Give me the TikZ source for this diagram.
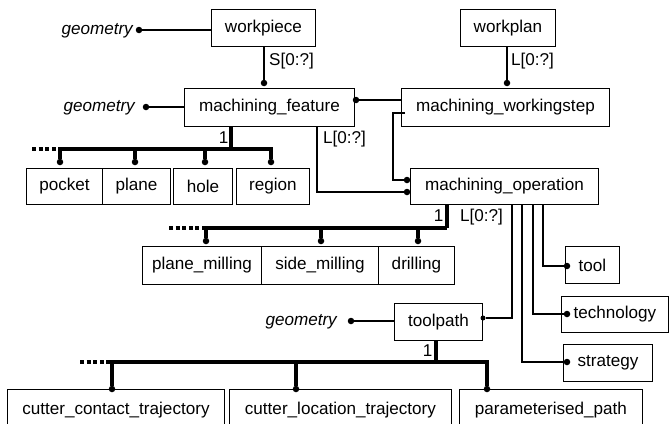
\documentclass[tikz,border=0pt]{standalone}
\usepackage{fontspec}
\setmainfont{Liberation Sans}
\begin{document}
\begin{tikzpicture}[x=1pt,y=-1pt,
  box/.style={draw, line width=0.9pt, inner sep=0pt, anchor=north west, font=\fontsize{17.1}{20}\selectfont},
  lbl/.style={font=\fontsize{17.1}{20}\selectfont, inner sep=0pt},
  geo/.style={font=\fontsize{17.1}{20}\selectfont\itshape, inner sep=0pt, anchor=base east},
  conn/.style={line width=1.3pt},
  bus/.style={line width=3.6pt},
  ext/.style={line width=3.6pt, dash pattern=on 4pt off 2.6pt},
  dot/.style={fill, circle, inner sep=0pt, minimum size=6.5pt},
  sdot/.style={fill, circle, inner sep=0pt, minimum size=5pt}]
\useasboundingbox (0,0) rectangle (669,423);
\clip (0,0) rectangle (669,423);

% boxes
\node[box, minimum width=104, minimum height=37] (wp) at (211,9) {workpiece};
\node[box, minimum width=95, minimum height=37] (wpl) at (460,9) {workplan};
\node[box, minimum width=170, minimum height=38] (mf) at (184,88) {machining\_feature};
\node[box, minimum width=208, minimum height=38] (ws) at (401,88) {machining\_workingstep};
\node[box, minimum width=76, minimum height=36] (pocket) at (26,168) {pocket};
\node[box, minimum width=68, minimum height=36] (plane) at (102,168) {plane};
\node[box, minimum width=59, minimum height=36] (hole) at (173,168) {hole};
\node[box, minimum width=73, minimum height=36] (region) at (236,168) {region};
\node[box, minimum width=188, minimum height=36] (mo) at (410,168) {machining\_operation};
\node[box, minimum width=119, minimum height=38] (pm) at (142,246) {plane\_milling};
\node[box, minimum width=117, minimum height=38] (sm) at (261,246) {side\_milling};
\node[box, minimum width=76, minimum height=38] (dr) at (378,246) {drilling};
\node[box, minimum width=54, minimum height=37] (tool) at (565,246) {tool};
\node[box, minimum width=107, minimum height=36] (tech) at (561,296) {technology};
\node[box, minimum width=89, minimum height=37] (strat) at (563,344) {strategy};
\node[box, minimum width=88, minimum height=37] (tp) at (394,303) {toolpath};
\node[box, minimum width=217, minimum height=42] (cct) at (7,389) {cutter\_contact\_trajectory};
\node[box, minimum width=222, minimum height=42] (clt) at (229,389) {cutter\_location\_trajectory};
\node[box, minimum width=183, minimum height=42] (pp) at (459,389) {parameterised\_path};

% geometry labels
\node[geo] (geo1) at (133,34.5) {geometry};
\node[geo] (geo2) at (135,111.5) {geometry};
\node[geo] (geo3) at (337,325) {geometry};

% cardinality labels
\node[lbl, anchor=base west] (lS) at (269,65) {S[0:?]};
\node[lbl, anchor=base west] (lWP) at (511,65) {L[0:?]};
\node[lbl, anchor=base east] (l1a) at (228.5,143) {1};
\node[lbl, anchor=base west] (lMF) at (323,143) {L[0:?]};
\node[lbl, anchor=base east] (l1b) at (443.5,221) {1};
\node[lbl, anchor=base west] (lMO) at (460,221) {L[0:?]};
\node[lbl, anchor=base east] (l1c) at (432.5,356) {1};

% geometry connectors
\node[dot] (g1d) at (139,30) {};
\node[dot] (g2d) at (146,107) {};
\node[dot] (g3d) at (351,321) {};
\draw[conn] (g1d) -- (g1d -| wp.west);
\draw[conn] (g2d) -- (g2d -| mf.west);
\draw[conn] (g3d) -- (g3d -| tp.west);

% workpiece -> machining_feature
\node[dot] (d1) at (264,83) {};
\draw[conn] (d1 |- wp.south) -- (d1);
% workplan -> workingstep
\node[dot] (d2) at (507,83) {};
\draw[conn] (d2 |- wpl.south) -- (d2);
% workingstep -> machining_feature
\node[dot] (d3) at (356,100) {};
\draw[conn] (d3) -- (d3 -| ws.west);

% machining_feature subtypes
\coordinate (b1) at (231,149);
\coordinate (b1l) at (60,149);
\coordinate (b1r) at (271,149);
\coordinate (b1e) at (32,149);
\node[dot] (p1) at (60,162) {};
\node[dot] (p2) at (135,162) {};
\node[dot] (p3) at (205,162) {};
\node[dot] (p4) at (271,162) {};
\draw[bus] (b1 |- mf.south) -- (b1);
\draw[bus] (p1) -- (b1l) -- (b1r) -- (p4);
\draw[bus] (p2 |- b1l) -- (p2);
\draw[bus] (p3 |- b1l) -- (p3);
\draw[ext] (b1e) -- (b1l);

% machining_feature -> machining_operation
\coordinate (m1) at (317,0);
\node[dot] (od2) at (407,192) {};
\draw[conn] (m1 |- mf.south) |- (od2);
% workingstep -> machining_operation
\coordinate (s1) at (405,113);
\coordinate (s2) at (393,113);
\node[dot] (od1) at (407,180) {};
\draw[conn] (s1) -- (s2) |- (od1);

% machining_operation subtypes
\coordinate (b2) at (447,228);
\coordinate (b2l) at (206,228);
\coordinate (b2e) at (169,228);
\node[dot] (q1) at (206,241) {};
\node[dot] (q2) at (321,241) {};
\node[dot] (q3) at (418,241) {};
\draw[bus] (b2 |- mo.south) -- (b2);
\draw[bus] (q1) -- (b2l) -- (b2);
\draw[bus] (q2 |- b2l) -- (q2);
\draw[bus] (q3 |- b2l) -- (q3);
\draw[ext] (b2e) -- (b2l);

% machining_operation attributes
\coordinate (v1) at (512,0);
\coordinate (v2) at (522,0);
\coordinate (v3) at (533,0);
\coordinate (v4) at (543,0);
\node[sdot] (tpd) at (483,318) {};
\node[dot] (std) at (567,362) {};
\node[dot] (ted) at (567,314) {};
\node[dot] (tod) at (567,266) {};
\draw[conn] (v1 |- mo.south) |- (tpd);
\draw[conn] (v2 |- mo.south) |- (std);
\draw[conn] (v3 |- mo.south) |- (ted);
\draw[conn] (v4 |- mo.south) |- (tod);

% toolpath subtypes
\coordinate (b3) at (436,362);
\coordinate (b3l) at (112,362);
\coordinate (b3r) at (487,362);
\coordinate (b3e) at (80,362);
\node[dot] (r1) at (112,389) {};
\node[dot] (r2) at (296,389) {};
\node[dot] (r3) at (487,389) {};
\draw[bus] (b3 |- tp.south) -- (b3);
\draw[bus] (r1) -- (b3l) -- (b3r) -- (r3);
\draw[bus] (r2 |- b3l) -- (r2);
\draw[ext] (b3e) -- (b3l);
\end{tikzpicture}
\end{document}
